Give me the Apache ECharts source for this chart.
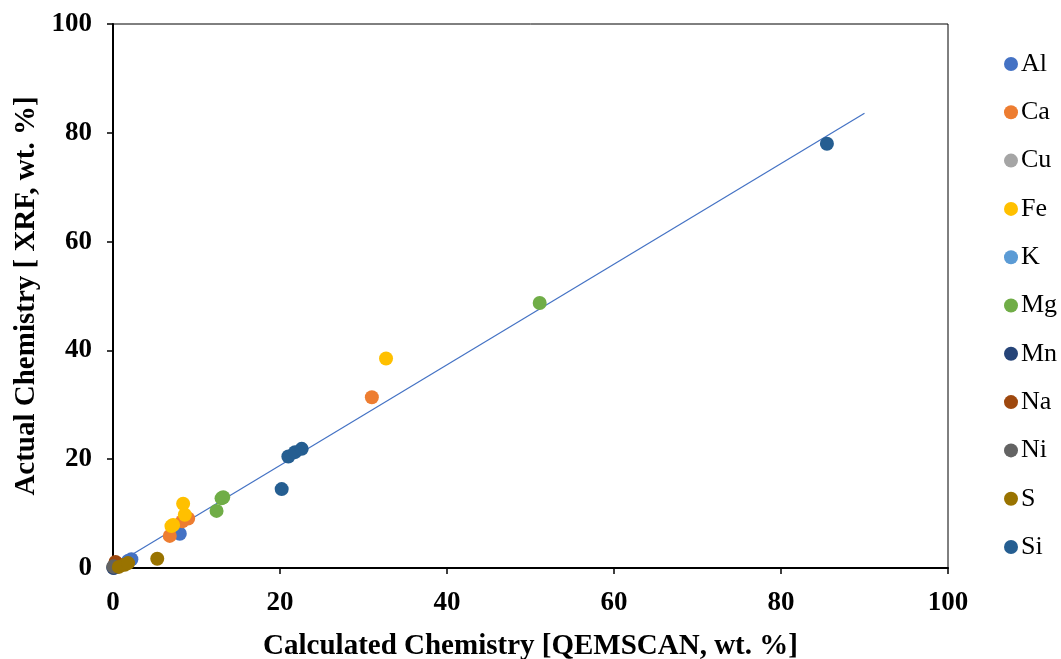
<!DOCTYPE html>
<html>
<head>
<meta charset="utf-8">
<script src="https://cdn.jsdelivr.net/npm/echarts@6/dist/echarts.min.js"></script>
<style>
html,body{margin:0;padding:0;background:#fff;}
#chart{width:1061px;height:659px;}
</style>
</head>
<body>
<div id="chart"></div>
<script>
const seriesNames = ['Al','Ca','Cu','Fe','K','Mg','Mn','Na','Ni','S','Si'];
const seriesColors = ['#4472C4','#ED7D31','#A5A5A5','#FFC000','#5B9BD5','#70AD47','#264478','#9E480E','#636363','#997300','#255E91'];
const Al = [[0.2,0.1],[1.8,1.3],[2.2,1.6],[8.0,6.3]];
const Ca = [[0.4,0.7],[31.0,31.4],[6.8,5.9],[9.0,9.1],[8.3,8.6]];
const Cu = [[0.05,0.1],[0.02,0.05]];
const Fe = [[32.7,38.5],[8.4,11.8],[8.6,9.8],[7.0,7.7],[7.2,7.9]];
const K = [[0.5,0.6],[0.8,0.4]];
const Mg = [[51.1,48.7],[13.0,12.8],[13.2,13.0],[12.4,10.5]];
const Mn = [[0.05,0.05],[0.1,0.05]];
const Na = [[0.3,1.1],[0.5,0.8]];
const Ni = [[0.05,0.3],[0.1,0.2]];
const S = [[5.3,1.7],[1.4,0.6],[0.7,0.2],[1.8,0.9]];
const Si = [[85.5,78.0],[21.0,20.5],[21.8,21.3],[22.6,21.9],[20.2,14.5]];
const trend = [[0.7,1.0],[90.0,83.6]];
const xTitle = 'Calculated Chemistry [QEMSCAN, wt. %]';
const yTitle = 'Actual Chemistry [ XRF, wt. %]';

const allData = [Al,Ca,Cu,Fe,K,Mg,Mn,Na,Ni,S,Si];
const FONT = 'Liberation Serif';

const series = [{
  type:'line', data: trend, showSymbol:false, symbol:'none', silent:true,
  lineStyle:{color:'#4472C4', width:1.2}, z:1
}];
seriesNames.forEach((n,i)=>{
  series.push({
    name:n, type:'scatter', data: allData[i], symbol:'circle', symbolSize:14,
    itemStyle:{color:seriesColors[i], opacity:1}, z:2+i
  });
});

const chart = echarts.init(document.getElementById('chart'));
chart.setOption({
  animation:false,
  backgroundColor:'#fff',
  grid:{left:113, right:113, top:24, bottom:91, show:true, borderColor:'#000', borderWidth:1,
        containLabel:false, outerBoundsMode:'none'},
  xAxis:{
    type:'value', min:0, max:100, interval:20,
    name:xTitle, nameLocation:'middle', nameGap:64,
    nameTextStyle:{fontFamily:FONT, fontWeight:'bold', fontSize:29, color:'#000'},
    axisLine:{show:true, lineStyle:{color:'#000', width:2}},
    axisTick:{show:true, inside:false, length:6, lineStyle:{color:'#000', width:1.5}},
    axisLabel:{fontFamily:FONT, fontWeight:'bold', fontSize:27, color:'#000', margin:22},
    splitLine:{show:false}
  },
  yAxis:{
    type:'value', min:0, max:100, interval:20,
    name:yTitle, nameLocation:'middle', nameGap:66, nameRotate:90,
    nameTextStyle:{fontFamily:FONT, fontWeight:'bold', fontSize:29, color:'#000'},
    axisLine:{show:true, lineStyle:{color:'#000', width:2}},
    axisTick:{show:true, inside:false, length:6, lineStyle:{color:'#000', width:1.5}},
    axisLabel:{fontFamily:FONT, fontWeight:'bold', fontSize:27, color:'#000', margin:21},
    splitLine:{show:false}
  },
  legend:{
    orient:'vertical', left:999, top:46, itemWidth:14, itemHeight:14, itemGap:22.3,
    icon:'circle', data:seriesNames,
    textStyle:{fontFamily:FONT, fontSize:26, color:'#000', lineHeight:23, padding:[0,0,0,-2]}
  },
  series: series
});
</script>
</body>
</html>
